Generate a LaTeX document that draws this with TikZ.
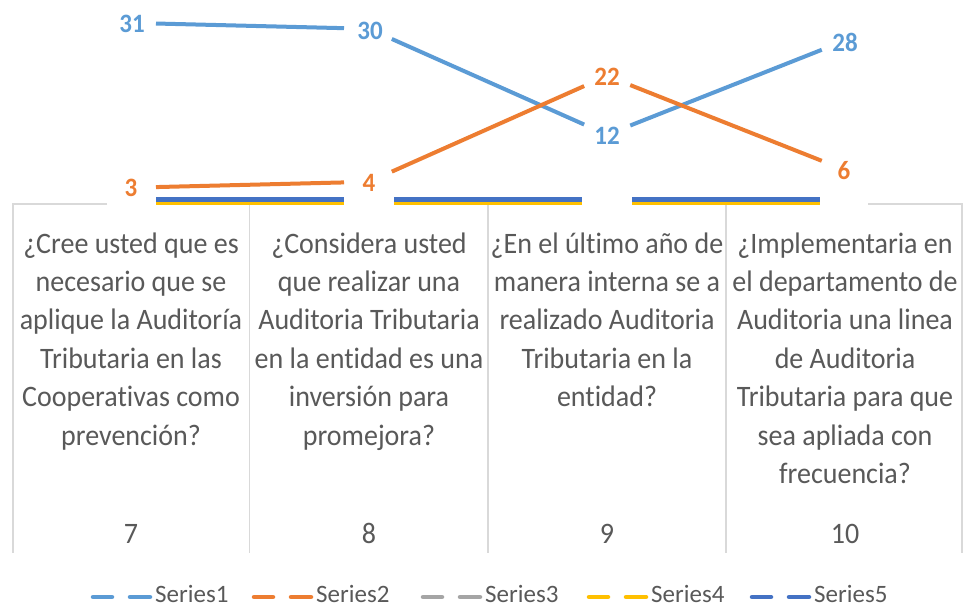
\documentclass[tikz,border=0pt]{standalone}
\usepackage{fontspec}
\setmainfont{Carlito}[Ligatures=NoCommon]
\usepackage{graphicx}
\definecolor{sOne}{HTML}{5B9BD5}
\definecolor{sTwo}{HTML}{ED7D31}
\definecolor{sThree}{HTML}{A5A5A5}
\definecolor{sFour}{HTML}{FFC000}
\definecolor{sFive}{HTML}{4472C4}
\definecolor{txtc}{HTML}{595959}
\definecolor{gridc}{HTML}{D9D9D9}
\newcommand{\vstr}[1]{\scalebox{1}[1.06]{#1}}
\begin{document}
\begin{tikzpicture}[x=1pt,y=-1pt,
  gridline/.style={draw=gridc, line width=1.4pt},
  serline/.style={line width=4pt, shorten <=25pt, shorten >=25pt},
  dlab/.style={inner sep=0pt, font=\fontsize{25}{30}\selectfont\bfseries},
  catlab/.style={inner sep=0pt, anchor=base, text=txtc, font=\fontsize{28}{36.3}\selectfont},
  numlab/.style={inner sep=0pt, anchor=base, text=txtc, font=\fontsize{28}{34}\selectfont},
  legtext/.style={inner sep=0pt, anchor=base west, text=txtc, font=\fontsize{25}{30}\selectfont},
  legdash/.style={line width=4.5pt, line cap=round}]
\useasboundingbox (0,0) rectangle (963,607);
\fill[white] (0,0) rectangle (963,607);

% axis / category boundaries
\coordinate (g0) at (13,204);
\coordinate (g0a) at (107,204);
\coordinate (g4) at (962,204);
\coordinate (g4a) at (868,204);
\draw[gridline] (g0a) -- (g0) -- (13,553);
\draw[gridline] (g4a) -- (g4) -- (962,553);
\foreach \x/\n in {249.5/g1,488/g2,726/g3}{
  \coordinate (\n t) at (\x,204);
  \coordinate (\n b) at (\x,553);
  \draw[gridline] (\n t) -- (\n b);
}

% data points
\foreach \i/\x in {1/131,2/369,3/607,4/845}{
  \coordinate (c\i) at (\x,201);
  \coordinate (y\i) at (\x,203);
  \coordinate (b\i) at (\x,199);
}
\coordinate (a1) at (131,22.9);
\coordinate (a2) at (369,28.8);
\coordinate (a3) at (607,134.7);
\coordinate (a4) at (845,40.6);
\coordinate (o1) at (131,187.7);
\coordinate (o2) at (369,181.8);
\coordinate (o3) at (607,75.9);
\coordinate (o4) at (845,170);

% series segments
\foreach \p/\q in {1/2,2/3,3/4}{
  \draw[serline, sThree] (c\p) -- (c\q);
  \draw[serline, sFour] (y\p) -- (y\q);
  \draw[serline, sFive, line width=5pt] (b\p) -- (b\q);
}
\foreach \p/\q in {1/2,2/3,3/4}{
  \draw[serline, sOne] (a\p) -- (a\q);
  \draw[serline, sTwo] (o\p) -- (o\q);
}

% data labels
\node[dlab, text=sOne] (la1) at (132,23.5) {\vstr{31}};
\node[dlab, text=sOne] (la2) at (370,31) {\vstr{30}};
\node[dlab, text=sOne] (la3) at (607,136) {\vstr{12}};
\node[dlab, text=sOne] (la4) at (845,42) {\vstr{28}};
\node[dlab, text=sTwo] (lo1) at (131,188) {\vstr{3}};
\node[dlab, text=sTwo] (lo2) at (369,183) {\vstr{4}};
\node[dlab, text=sTwo] (lo3) at (607,77) {\vstr{22}};
\node[dlab, text=sTwo] (lo4) at (844,171) {\vstr{6}};

% category labels
\node[catlab] (q1) at (131,253) {\vstr{\begin{tabular}[t]{@{}c@{}}¿Cree usted que es\\ necesario que se\\ aplique la Auditoría\\ Tributaria en las\\ Cooperativas como\\ prevención?\end{tabular}}};
\node[catlab] (q2) at (369,253) {\vstr{\begin{tabular}[t]{@{}c@{}}¿Considera usted\\ que realizar una\\ Auditoria Tributaria\\ en la entidad es una\\ inversión para\\ promejora?\end{tabular}}};
\node[catlab] (q3) at (607,253) {\vstr{\begin{tabular}[t]{@{}c@{}}¿En el último año de\\ manera interna se a\\ realizado Auditoria\\ Tributaria en la\\ entidad?\end{tabular}}};
\node[catlab] (q4) at (845,253) {\vstr{\begin{tabular}[t]{@{}c@{}}¿Implementaria en\\ el departamento de\\ Auditoria una linea\\ de Auditoria\\ Tributaria para que\\ sea apliada con\\ frecuencia?\end{tabular}}};

% category numbers
\node[numlab] (n1) at (131,543) {\vstr{7}};
\node[numlab] (n2) at (369,543) {\vstr{8}};
\node[numlab] (n3) at (607,543) {\vstr{9}};
\node[numlab] (n4) at (845,543) {\vstr{10}};

% legend
\foreach \s/\c/\t in {0/sOne/Series1, 161/sTwo/Series2, 330/sThree/Series3, 496/sFour/Series4, 659/sFive/Series5}{
  \draw[legdash, \c] (93+\s,597) -- (112+\s,597);
  \draw[legdash, \c] (130+\s,597) -- (150+\s,597);
  \node[legtext] at (155+\s,602.5) {\t};
}
\end{tikzpicture}
\end{document}
